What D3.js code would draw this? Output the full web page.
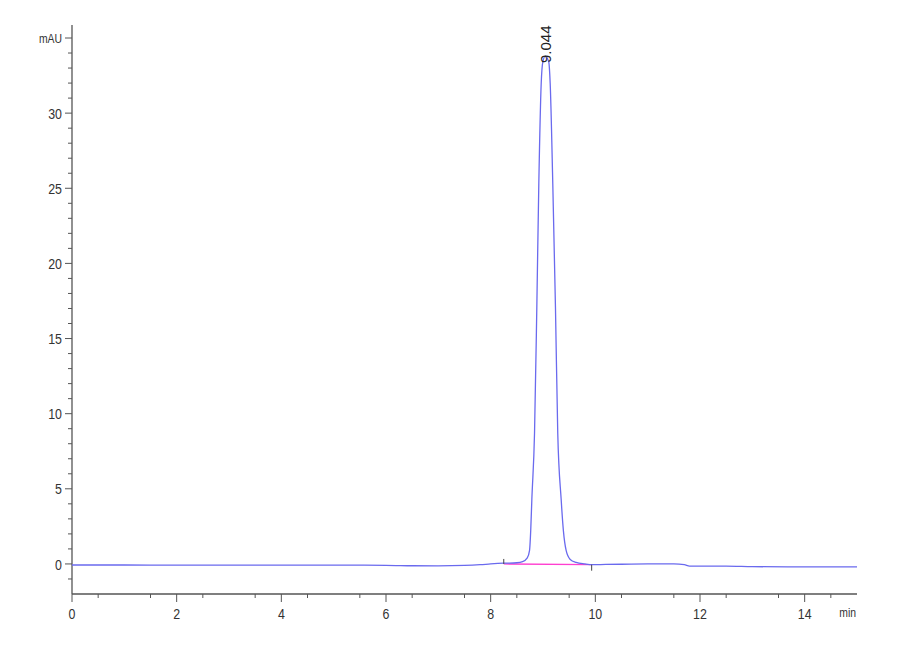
<!DOCTYPE html>
<html>
<head>
<meta charset="utf-8">
<script src="https://cdn.jsdelivr.net/npm/d3@7"></script>
<style>
  body { margin: 0; background: #fff; }
  svg text { font-family: "Liberation Sans", Arial, sans-serif; fill: #333; }
</style>
</head>
<body>
<svg width="900" height="660"></svg>
<script>
// retention time (min) and signal (mAU)
var times = [0, 1, 2, 3, 4, 5, 6, 6.5, 7, 7.5, 7.8, 8.0, 8.25, 8.5, 8.61, 8.7, 8.743, 8.765,
    8.787, 8.838, 8.882, 8.92, 8.966, 8.996, 9.044, 9.11, 9.137, 9.187, 9.238, 9.282, 9.347,
    9.39, 9.442, 9.52, 9.632, 9.8, 9.95, 10.2, 10.5, 11.0, 11.5, 11.7, 11.8, 12.5, 13, 14, 15];
var signal = [-0.07, -0.07, -0.08, -0.08, -0.08, -0.08, -0.09, -0.12, -0.13, -0.1, -0.05, 0.0, 0.05, 0.08, 0.15, 0.4, 0.9, 2.2,
    4.3, 8.7, 17.1, 25.3, 32.0, 33.4, 33.8, 33.4, 32.0, 25.3, 17.1, 8.7, 4.3,
    2.2, 0.9, 0.3, 0.1, 0.0, -0.05, -0.03, -0.02, 0.0, 0.0, -0.05, -0.15, -0.15, -0.18, -0.2, -0.2];

// integration baseline and event markers
var baseTimes = [8.25, 9.93];
var baseValues = [0.0, -0.05];
var peakTime = 9.044;
var peakHeight = 33.8;
var peakLabel = "9.044";

var xTicks = [0, 2, 4, 6, 8, 10, 12, 14];
var yTicks = [0, 5, 10, 15, 20, 25, 30, 35];
var xUnit = "min";
var yUnit = "mAU";

var svg = d3.select("svg");
var x = d3.scaleLinear().domain([0, 15]).range([72, 857]);
var y = d3.scaleLinear().domain([-2, 35]).range([594, 38]);

var axisColor = "#555";
var squeeze = 0.8; // labels in the original are a condensed face

// x axis
var gx = svg.append("g").attr("transform", "translate(0," + y(-2) + ")");
gx.append("line").attr("x1", x(0)).attr("x2", x(15)).attr("stroke", axisColor).attr("stroke-width", 1.3);
gx.selectAll(".minor").data(d3.range(0.5, 15, 1)).enter().append("line")
    .attr("x1", function (d) { return x(d); }).attr("x2", function (d) { return x(d); })
    .attr("y1", 0).attr("y2", 4).attr("stroke", axisColor);
gx.selectAll(".major").data(xTicks).enter().append("line")
    .attr("x1", function (d) { return x(d); }).attr("x2", function (d) { return x(d); })
    .attr("y1", 0).attr("y2", 8).attr("stroke", axisColor);
gx.selectAll(".lbl").data(xTicks).enter().append("text")
    .attr("transform", function (d) { return "translate(" + x(d) + ",25) scale(" + squeeze + ",1)"; })
    .attr("text-anchor", "middle").style("font-size", "15.5px")
    .text(function (d) { return d; });
gx.append("text").attr("transform", "translate(" + (x(15) - 1) + ",23) scale(" + squeeze + ",1)")
    .attr("text-anchor", "end").style("font-size", "13px").text(xUnit);

// y axis
var gy = svg.append("g").attr("transform", "translate(" + x(0) + ",0)");
gy.append("line").attr("y1", y(-2)).attr("y2", y(35) - 13).attr("stroke", axisColor).attr("stroke-width", 1.3);
gy.selectAll(".minor").data(d3.range(-1, 35, 1).filter(function (d) { return d % 5 !== 0; })).enter().append("line")
    .attr("y1", function (d) { return y(d); }).attr("y2", function (d) { return y(d); })
    .attr("x1", 0).attr("x2", -4).attr("stroke", axisColor);
gy.selectAll(".major").data(yTicks).enter().append("line")
    .attr("y1", function (d) { return y(d); }).attr("y2", function (d) { return y(d); })
    .attr("x1", 0).attr("x2", -7).attr("stroke", axisColor);
gy.selectAll(".lbl").data(yTicks).enter().append("text")
    .attr("transform", function (d) { return "translate(-10," + y(d) + ") scale(" + squeeze + ",1)"; })
    .attr("dy", "0.36em").attr("text-anchor", "end")
    .style("font-size", function (d) { return d === 35 ? "13px" : "15.5px"; })
    .text(function (d) { return d === 35 ? yUnit : d; });

// integration baseline
var pts = times.map(function (t, i) { return [t, signal[i]]; });
svg.append("path").datum(baseTimes.map(function (t, i) { return [t, baseValues[i]]; }))
    .attr("fill", "none").attr("stroke", "#ff3fd0").attr("stroke-width", 1.3)
    .attr("d", d3.line().x(function (d) { return x(d[0]); }).y(function (d) { return y(d[1]); }));

// trace
svg.append("path").datum(pts)
    .attr("fill", "none").attr("stroke", "#6a6aee").attr("stroke-width", 1.3)
    .attr("d", d3.line().curve(d3.curveMonotoneX)
        .x(function (d) { return x(d[0]); }).y(function (d) { return y(d[1]); }));

// peak start / end markers
svg.append("line").attr("x1", x(baseTimes[0])).attr("x2", x(baseTimes[0]))
    .attr("y1", y(baseValues[0]) - 5).attr("y2", y(baseValues[0])).attr("stroke", "#444");
svg.append("line").attr("x1", x(baseTimes[1])).attr("x2", x(baseTimes[1]))
    .attr("y1", y(baseValues[1])).attr("y2", y(baseValues[1]) + 6).attr("stroke", "#444");

// retention time label
svg.append("text")
    .attr("transform", "translate(" + x(peakTime) + "," + (y(peakHeight) + 7) + ") rotate(-90)")
    .attr("dy", "0.36em").style("font-size", "15px")
    .style("fill", "#222")
    .text(peakLabel);
</script>
</body>
</html>
